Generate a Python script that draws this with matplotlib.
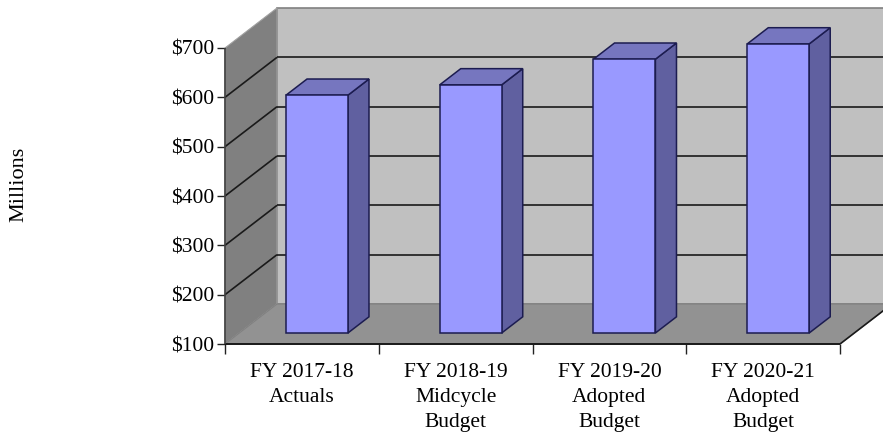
import numpy as np
import matplotlib
matplotlib.use('Agg')
import matplotlib.pyplot as plt

categories = ['FY 2017-18\nActuals', 'FY 2018-19\nMidcycle\nBudget',
              'FY 2019-20\nAdopted\nBudget', 'FY 2020-21\nAdopted\nBudget']
values = [582, 603, 655, 686]
y_ticks = [100, 200, 300, 400, 500, 600, 700]
y_labels = ['$100', '$200', '$300', '$400', '$500', '$600', '$700']

W, H = 883, 436
# front plane of the box in pixels
X0, X1, Y_BOT, Y_TOP = 225, 840, 344, 48
DEPTH_X = 52 / ((X1 - X0) / 4)
DEPTH_Y = 40 / ((Y_BOT - Y_TOP) / 600)

plt.rcParams['font.family'] = ['Liberation Serif', 'DejaVu Serif']

fig = plt.figure(figsize=(W / 100, H / 100), dpi=100)
ax = fig.add_axes([X0 / W, 1 - Y_BOT / H, (X1 - X0) / W, (Y_BOT - Y_TOP) / H])
ax.set_xlim(0, 4)
ax.set_ylim(100, 700)


def proj(x, v, d):
    # x, value and depth (0 front, 1 back) to axes data coords
    return x + d * DEPTH_X, v + d * DEPTH_Y


def face(pts, color, edge='none', lw=0, z=1):
    xy = [proj(*p) for p in pts]
    ax.fill([p[0] for p in xy], [p[1] for p in xy], facecolor=color, edgecolor=edge,
            linewidth=lw, clip_on=False, zorder=z, joinstyle='miter')


def line3(a, b, color='#1a1a1a', lw=1.2, z=2):
    pa, pb = proj(*a), proj(*b)
    ax.plot([pa[0], pb[0]], [pa[1], pb[1]], color=color, lw=lw, clip_on=False,
            zorder=z, solid_capstyle='butt')


# walls and floor
face([(0, 100, 1), (4, 100, 1), (4, 700, 1), (0, 700, 1)], '#C0C0C0', '#808080', 1.2)
face([(0, 100, 0), (0, 100, 1), (0, 700, 1), (0, 700, 0)], '#808080', '#A0A0A0', 0.8)
face([(0, 100, 0), (4, 100, 0), (4, 100, 1), (0, 100, 1)], '#929292', '#808080', 0.8)

# gridlines run along side wall and back wall
for t in y_ticks[1:-1]:
    line3((0, t, 0), (0, t, 1))
    line3((0, t, 1), (4, t, 1))
line3((4, 100, 0), (4, 100, 1))
line3((0, 100, 0), (4, 100, 0), lw=1.4, z=3)
line3((0, 100, 0), (0, 700, 0), color='#404040', lw=1.2, z=3)

# bars
bar_w = 0.403
d0, d1 = 0.275, 0.68
edge = '#1c1c50'
for i, v in enumerate(values):
    xa = i + 0.505 - bar_w / 2
    xb = xa + bar_w
    face([(xb, 100, d0), (xb, 100, d1), (xb, v, d1), (xb, v, d0)], '#6060A0', edge, 1.1, 4)
    face([(xa, v, d0), (xb, v, d0), (xb, v, d1), (xa, v, d1)], '#7676BF', edge, 1.1, 4)
    face([(xa, 100, d0), (xb, 100, d0), (xb, v, d0), (xa, v, d0)], '#9999FF', edge, 1.1, 5)

for s in ax.spines.values():
    s.set_visible(False)
ax.patch.set_visible(False)

ax.set_yticks(y_ticks)
ax.set_yticklabels(y_labels, fontsize=15.5)
ax.tick_params(axis='y', length=6, width=1, color='#222222', pad=2)
ax.set_xticks(range(5))
ax.set_xticklabels([])
ax.tick_params(axis='x', which='major', length=7, width=1, color='#222222')
ax.set_xticks(np.arange(len(categories)) + 0.5, minor=True)
ax.set_xticklabels(categories, minor=True, fontsize=15.5, linespacing=1.42)
ax.tick_params(axis='x', which='minor', length=0, pad=14)

fig.text(19 / W, 1 - 184 / H, 'Millions', rotation=90, ha='center', va='center', fontsize=16)

fig.savefig('out.png', dpi=100)
